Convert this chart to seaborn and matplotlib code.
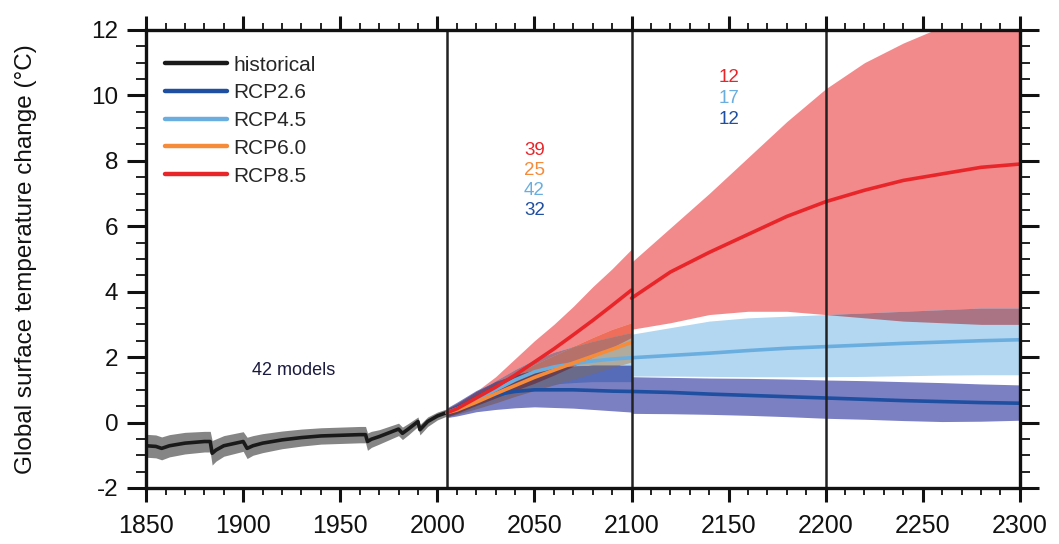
import numpy as np
import pandas as pd
import seaborn as sns
import matplotlib.pyplot as plt
from matplotlib.colors import to_rgb
from matplotlib.lines import Line2D
from matplotlib.ticker import MultipleLocator
from itertools import combinations

# historical run (multi-model mean and spread)
hist_years = [1850, 1855, 1858, 1862, 1870, 1880, 1883, 1884, 1886, 1890, 1900, 1902, 1905, 1910,
              1920, 1930, 1940, 1950, 1960, 1963, 1964, 1966, 1970, 1980, 1982, 1985, 1990, 1991,
              1995, 2000, 2005]
hist_mean = [-0.71, -0.73, -0.79, -0.71, -0.63, -0.58, -0.58, -0.94, -0.84, -0.71, -0.58, -0.79, -0.71, -0.63,
             -0.53, -0.46, -0.41, -0.39, -0.37, -0.37, -0.58, -0.51, -0.43, -0.20, -0.33, -0.20, 0.03, -0.22,
             0.03, 0.20, 0.31]
hist_hi = [-0.36, -0.38, -0.44, -0.37, -0.30, -0.27, -0.27, -0.55, -0.50, -0.40, -0.28, -0.45, -0.40, -0.34,
           -0.26, -0.20, -0.16, -0.14, -0.12, -0.12, -0.32, -0.27, -0.22, -0.02, -0.14, -0.03, 0.17, -0.06,
           0.17, 0.32, 0.42]
hist_lo = [-1.06, -1.08, -1.14, -1.05, -0.96, -0.90, -0.90, -1.30, -1.18, -1.03, -0.88, -1.10, -1.00, -0.92,
           -0.80, -0.72, -0.66, -0.64, -0.62, -0.62, -0.85, -0.76, -0.66, -0.40, -0.52, -0.38, -0.12, -0.38,
           -0.12, 0.08, 0.20]

# projections 2005-2100
p1_years = [2005, 2010, 2020, 2030, 2040, 2050, 2060, 2070, 2080, 2090, 2100]
r85_m1 = [0.30, 0.42, 0.75, 1.08, 1.45, 1.85, 2.25, 2.68, 3.12, 3.58, 4.05]
r85_hi1 = [0.42, 0.58, 0.95, 1.40, 1.95, 2.50, 3.00, 3.55, 4.15, 4.70, 5.30]
r85_lo1 = [0.18, 0.28, 0.52, 0.75, 0.98, 1.20, 1.45, 1.72, 2.00, 2.30, 2.60]
r60_m1 = [0.30, 0.38, 0.62, 0.88, 1.13, 1.38, 1.60, 1.82, 2.03, 2.24, 2.45]
r60_hi1 = [0.42, 0.52, 0.85, 1.18, 1.48, 1.78, 2.05, 2.33, 2.60, 2.85, 3.05]
r60_lo1 = [0.18, 0.25, 0.42, 0.60, 0.80, 0.98, 1.15, 1.32, 1.50, 1.68, 1.85]
r45_m1 = [0.30, 0.42, 0.70, 1.00, 1.30, 1.55, 1.70, 1.80, 1.88, 1.94, 1.98]
r45_hi1 = [0.42, 0.56, 0.92, 1.28, 1.62, 1.92, 2.15, 2.32, 2.48, 2.62, 2.75]
r45_lo1 = [0.18, 0.26, 0.48, 0.70, 0.92, 1.08, 1.18, 1.22, 1.25, 1.25, 1.25]
r26_m1 = [0.30, 0.45, 0.70, 0.85, 0.95, 1.00, 1.00, 1.00, 0.98, 0.96, 0.95]
r26_hi1 = [0.45, 0.62, 0.98, 1.25, 1.45, 1.60, 1.68, 1.72, 1.75, 1.75, 1.75]
r26_lo1 = [0.15, 0.20, 0.33, 0.40, 0.45, 0.48, 0.46, 0.44, 0.40, 0.36, 0.32]

# extensions 2100-2300
p2_years = [2100, 2120, 2140, 2160, 2180, 2200, 2220, 2240, 2260, 2280, 2300]
r85_m2 = [3.80, 4.60, 5.20, 5.75, 6.30, 6.75, 7.10, 7.40, 7.60, 7.80, 7.90]
r85_hi2 = [4.90, 5.95, 7.00, 8.10, 9.20, 10.20, 11.00, 11.60, 12.10, 12.50, 12.80]
r85_lo2 = [2.85, 3.05, 3.30, 3.40, 3.40, 3.30, 3.20, 3.10, 3.05, 3.00, 3.00]
r45_m2 = [1.98, 2.05, 2.12, 2.20, 2.27, 2.32, 2.37, 2.42, 2.46, 2.50, 2.53]
r45_hi2 = [2.70, 2.90, 3.10, 3.20, 3.25, 3.30, 3.35, 3.40, 3.45, 3.50, 3.50]
r45_lo2 = [1.42, 1.42, 1.41, 1.40, 1.40, 1.40, 1.41, 1.43, 1.45, 1.46, 1.46]
r26_m2 = [0.95, 0.92, 0.87, 0.83, 0.79, 0.75, 0.71, 0.67, 0.64, 0.61, 0.59]
r26_hi2 = [1.40, 1.38, 1.36, 1.35, 1.33, 1.30, 1.28, 1.25, 1.22, 1.18, 1.15]
r26_lo2 = [0.28, 0.27, 0.25, 0.22, 0.18, 0.13, 0.10, 0.06, 0.03, 0.04, 0.07]

scenarios = ["historical", "RCP2.6", "RCP4.5", "RCP6.0", "RCP8.5"]
line_colors = ["#1a1a1a", "#1f4fa0", "#6aaee0", "#f68b3a", "#e8262a"]
band_colors = {"historical": "#858585", "RCP2.6": "#7b80c3", "RCP4.5": "#b3d7f1",
               "RCP6.0": "#fbcba6", "RCP8.5": "#f28a8c"}

# model counts per period
counts_p1 = {"RCP8.5": 39, "RCP6.0": 25, "RCP4.5": 42, "RCP2.6": 32}
counts_p2 = {"RCP8.5": 12, "RCP4.5": 17, "RCP2.6": 12}

sns.set_theme(style="ticks")
plt.rcParams["font.family"] = ["Liberation Sans", "DejaVu Sans"]
plt.rcParams["axes.unicode_minus"] = False

fig = plt.figure(figsize=(10.59, 5.44), dpi=100)
ax = fig.add_axes([0.138, 0.103, 0.825, 0.842])


def shade(x, bands):
    # overlapping spreads look like multiplied transparencies
    for k in range(1, len(bands) + 1):
        for combo in combinations(bands, k):
            lo = np.max([np.asarray(b[0]) for b in combo], axis=0)
            hi = np.min([np.asarray(b[1]) for b in combo], axis=0)
            rgb = np.prod([to_rgb(band_colors[b[2]]) for b in combo], axis=0)
            if k > 2:
                rgb = rgb ** 0.8
            ax.fill_between(x, lo, hi, where=hi > lo, interpolate=True,
                            color=rgb, lw=0, zorder=1)


ax.fill_between(hist_years, hist_lo, hist_hi, color=band_colors["historical"], lw=0, zorder=1)
shade(p1_years, [(r85_lo1, r85_hi1, "RCP8.5"), (r60_lo1, r60_hi1, "RCP6.0"),
                 (r45_lo1, r45_hi1, "RCP4.5"), (r26_lo1, r26_hi1, "RCP2.6")])
shade(p2_years, [(r85_lo2, r85_hi2, "RCP8.5"), (r45_lo2, r45_hi2, "RCP4.5"),
                 (r26_lo2, r26_hi2, "RCP2.6")])

# long table of the mean curves
parts = [("historical", "h", hist_years, hist_mean),
         ("RCP2.6", "a", p1_years, r26_m1), ("RCP2.6", "b", p2_years, r26_m2),
         ("RCP4.5", "a", p1_years, r45_m1), ("RCP4.5", "b", p2_years, r45_m2),
         ("RCP6.0", "a", p1_years, r60_m1),
         ("RCP8.5", "a", p1_years, r85_m1), ("RCP8.5", "b", p2_years, r85_m2)]
df = pd.concat([pd.DataFrame({"year": yrs, "temp": vals, "scenario": name, "seg": name + seg})
                for name, seg, yrs, vals in parts], ignore_index=True)

sns.lineplot(data=df, x="year", y="temp", hue="scenario", hue_order=scenarios,
             palette=dict(zip(scenarios, line_colors)), units="seg", estimator=None,
             lw=2.6, legend=False, ax=ax, zorder=3)

for yr in [2005, 2100, 2200]:
    ax.axvline(yr, color="#222222", lw=1.8, zorder=4)

handles = [Line2D([], [], color=c, lw=3.2) for c in line_colors]
leg = ax.legend(handles, scenarios, loc="upper left", frameon=False, fontsize=15,
                handlelength=3.0, handletextpad=0.3, labelspacing=0.42,
                bbox_to_anchor=(0.0, 0.985))

ax.text(1926, 1.6, "42 models", ha="center", va="center", fontsize=13, color="#1a1a40")
for i, name in enumerate(["RCP8.5", "RCP6.0", "RCP4.5", "RCP2.6"]):
    ax.text(2050, 8.3 - i * 0.61, str(counts_p1[name]), ha="center", va="center",
            fontsize=13.5, color=line_colors[scenarios.index(name)])
for i, name in enumerate(["RCP8.5", "RCP4.5", "RCP2.6"]):
    ax.text(2150, 10.55 - i * 0.65, str(counts_p2[name]), ha="center", va="center",
            fontsize=13.5, color=line_colors[scenarios.index(name)])

ax.set_xlim(1850, 2300)
ax.set_ylim(-2, 12)
ax.xaxis.set_major_locator(MultipleLocator(50))
ax.xaxis.set_minor_locator(MultipleLocator(10))
ax.yaxis.set_major_locator(MultipleLocator(2))
ax.yaxis.set_minor_locator(MultipleLocator(0.5))
ax.tick_params(which="both", direction="out", top=True, right=True, color="#111111",
               labelcolor="#111111")
ax.tick_params(axis="x", which="major", length=10, width=2.2, labelsize=18, pad=9)
ax.tick_params(axis="x", which="minor", length=5, width=1.3)
ax.tick_params(axis="y", which="major", length=14, width=2.2, labelsize=17.5, pad=6)
ax.tick_params(axis="y", which="minor", length=7, width=1.3)
for sp in ax.spines.values():
    sp.set_linewidth(2.4)
    sp.set_color("#111111")
    sp.set_zorder(5)

ax.set_xlabel("")
ax.set_ylabel("Global surface temperature change (°C)", fontsize=17.5, color="#111111")
ax.yaxis.set_label_coords(-0.125, 0.5)

fig.savefig("out.png", dpi=100)
